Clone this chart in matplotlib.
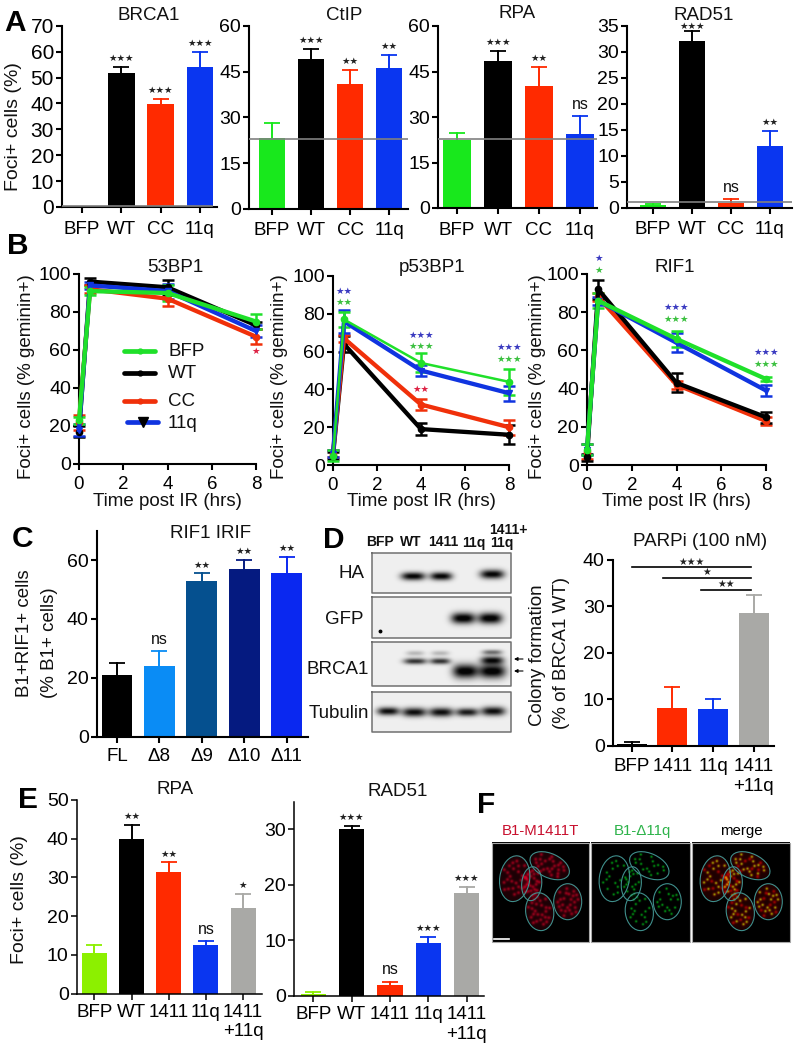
import numpy as np
import matplotlib
matplotlib.use("Agg")
import matplotlib.pyplot as plt
from matplotlib.patches import Ellipse

plt.rcParams['font.family'] = ['Liberation Sans', 'DejaVu Sans']
plt.rcParams['text.color'] = '#111111'
plt.rcParams['axes.labelcolor'] = '#111111'

W, H = 794, 1050
GREEN, LIME, RED, BLUE, GREY = '#18e81c', '#8cf000', '#ff2a00', '#0a36f0', '#a9a9a6'
LINE_BLUE, LINE_GREEN, LINE_RED = '#1034e0', '#1fe02a', '#f0300a'

# Panel A
a_cats = ['BFP', 'WT', 'CC', '11q']
a_cols = [GREEN, 'black', RED, BLUE]
brca1_v = [0, 51.6, 39.9, 54.0]
brca1_e = [0, 2.4, 1.8, 6.0]
brca1_s = ['', '***', '***', '***']
ctip_v = [23.1, 49.0, 40.8, 46.3]
ctip_e = [5.1, 3.6, 4.8, 4.1]
ctip_s = ['', '***', '**', '**']
rpa_v = [22.3, 48.4, 40.2, 24.4]
rpa_e = [2.3, 3.3, 6.3, 5.8]
rpa_s = ['', '***', '**', 'ns']
rad51_v = [0.6, 32.0, 0.9, 11.9]
rad51_e = [0.2, 2.0, 0.7, 2.8]
rad51_s = ['', '***', 'ns', '**']

# Panel B
t_hrs = [0, 0.5, 4, 8]
b_series = ['WT', 'CC', '11q', 'BFP']
b_cols = {'BFP': LINE_GREEN, 'WT': 'black', 'CC': LINE_RED, '11q': LINE_BLUE}
bp53_v = {'BFP': [23, 91, 90, 75], 'WT': [17, 96, 93, 73], 'CC': [22, 92, 87, 67], '11q': [18, 94, 91, 70]}
bp53_e = {'BFP': [2, 2, 4, 4], 'WT': [3, 2, 4, 2], 'CC': [4, 2, 4, 4], '11q': [3, 2, 4, 3]}
p53_v = {'BFP': [5, 77, 54, 44], 'WT': [5, 64, 19, 16], 'CC': [6, 67, 32, 20], '11q': [6, 76, 50, 38]}
p53_e = {'BFP': [3, 4, 5, 7], 'WT': [2, 4, 3, 5], 'CC': [2, 2, 3, 4], '11q': [2, 6, 3, 4]}
rif_v = {'BFP': [8, 86, 66, 45], 'WT': [4, 92, 43, 25], 'CC': [7, 88, 42, 23], '11q': [8, 86, 64, 39]}
rif_e = {'BFP': [3, 4, 4, 1], 'WT': [2, 5, 5, 3], 'CC': [4, 2, 2, 2], '11q': [3, 2, 5, 3]}
bp53_sig = [(8, 59, '*', '#dd2244')]
p53_sig = [(0.5, 92, '**', '#3a3ac0'), (0.5, 86, '**', '#3cc040'), (4, 68.4, '***', '#3a3ac0'),
           (4, 62.6, '***', '#3cc040'), (4, 40, '**', '#dd2244'), (8, 62, '***', '#3a3ac0'), (8, 56, '***', '#3cc040')]
rif_sig = [(0.5, 108.4, '*', '#3a3ac0'), (0.5, 102, '*', '#3cc040'), (4, 82.7, '***', '#3a3ac0'),
           (4, 76.4, '***', '#3cc040'), (8, 58.7, '***', '#3a3ac0'), (8, 52.7, '***', '#3cc040')]

# Panel C
c_cats = ['FL', 'Δ8', 'Δ9', 'Δ10', 'Δ11']
c_cols = ['black', '#0a8cf5', '#05508f', '#051a80', '#0a28f0']
c_v = [21, 24, 53, 57, 55.5]
c_e = [4, 5, 2.5, 3.2, 5.6]
c_s = ['', 'ns', '**', '**', '**']

# Panel D
d_cats = ['BFP', '1411', '11q', '1411\n+11q']
d_cols = ['black', RED, BLUE, GREY]
d_v = [0.3, 8.2, 7.8, 28.5]
d_e = [0.4, 4.5, 2.3, 4.0]
d_brackets = [(0, 3, 38.4, '***'), (0.77, 3, 36.1, '*'), (1.7, 3, 33.5, '**')]
lane_labels = ['BFP', 'WT', '1411', '11q', '11q']
blot_names = ['HA', 'GFP', 'BRCA1', 'Tubulin']

# Panel E
e_cats = ['BFP', 'WT', '1411', '11q', '1411\n+11q']
e_cols = [LIME, 'black', RED, BLUE, GREY]
e_rpa_v = [10.5, 40, 31.5, 12.5, 22]
e_rpa_e = [2, 3.5, 2.4, 1, 3.7]
e_rpa_s = ['', '**', '**', 'ns', '*']
e_rad_v = [0.3, 30, 2, 9.6, 18.6]
e_rad_e = [0.4, 0.7, 0.6, 1, 1]
e_rad_s = ['', '***', 'ns', '***', '***']

fig = plt.figure(figsize=(W / 100, H / 100), dpi=100, facecolor='white')
px = fig.add_axes([0, 0, 1, 1], zorder=0)
px.set_xlim(0, W); px.set_ylim(H, 0); px.axis('off')

FS = 13.5


def make_ax(x0, x1, ytop, ybot, ymax, t0, step, lw=1.5, yticks=None, pad=2.5, ysize=14):
    ax = fig.add_axes([x0 / W, 1 - ybot / H, (x1 - x0) / W, (ybot - ytop) / H], zorder=2)
    ax.patch.set_alpha(0)
    ax.set_xlim((x0 - t0) / step, (x1 - t0) / step)
    ax.set_ylim(0, ymax)
    for s in ('top', 'right'):
        ax.spines[s].set_visible(False)
    for s in ('left', 'bottom'):
        ax.spines[s].set_linewidth(lw)
    ax.tick_params(width=lw, length=4.3)
    ax.tick_params(axis='x', labelsize=FS, pad=pad)
    ax.tick_params(axis='y', labelsize=ysize, pad=1.5)
    if yticks is not None:
        ax.set_yticks(yticks)
    return ax


def bars(ax, vals, errs, cols, cats, sig=None, width=0.68, offsets=None):
    xs = np.arange(len(vals))
    ax.bar(xs, vals, width=width, color=cols, zorder=2)
    for i, (v, e, c) in enumerate(zip(vals, errs, cols)):
        if e <= 0:
            continue
        ax.plot([i, i], [v, v + e], color=c, lw=1.4, zorder=1.8)
        ax.plot([i], [v + e], marker='_', ms=11, mew=1.3, color=c, zorder=1.8)
    ax.set_xticks(xs)
    ax.set_xticklabels(cats)
    if sig:
        for i, s in enumerate(sig):
            if not s:
                continue
            off = (offsets or {}).get(i, 6)
            if s == 'ns':
                ax.annotate(s, (i, vals[i] + errs[i]), xytext=(0, 3), textcoords='offset points',
                            ha='center', va='bottom', fontsize=11.5)
            else:
                ax.annotate('★' * len(s), (i, vals[i] + errs[i]), xytext=(0, off), textcoords='offset points',
                            ha='center', va='center', fontsize=6.8, family='DejaVu Sans', color='#222222')


# ---------- A
ax = make_ax(62, 217, 25.7, 207, 70, 82, 39.3, yticks=range(0, 71, 10), pad=5.5, ysize=15)
bars(ax, brca1_v, brca1_e, a_cols, a_cats, brca1_s)
ax.axhline(0.5, color='#808080', lw=1.2, zorder=3, xmax=0.97)
ax = make_ax(249, 408, 26, 208.7, 60, 272, 39.0, yticks=range(0, 61, 15), pad=5.5)
bars(ax, ctip_v, ctip_e, a_cols, a_cats, ctip_s)
ax.axhline(23, color='#808080', lw=1.2, zorder=3)
ax = make_ax(438, 597, 26, 208, 60, 457, 41.0, yticks=range(0, 61, 15), pad=5.5)
bars(ax, rpa_v, rpa_e, a_cols, a_cats, rpa_s)
ax.axhline(22.7, color='#808080', lw=1.2, zorder=3)
ax = make_ax(627, 792, 25.7, 207.7, 35, 653, 39.0, yticks=range(0, 36, 5), pad=5.5)
bars(ax, rad51_v, rad51_e, a_cols, a_cats, rad51_s, offsets={1: 3.5})
ax.axhline(1, color='#808080', lw=1.2, zorder=3)
for txt, x, y in [('BRCA1', 149, 15), ('CtIP', 344, 15), ('RPA', 517, 14), ('RAD51', 704, 15)]:
    px.text(x, y, txt, ha='center', va='center', fontsize=FS)
px.text(14, 127, 'Foci+ cells (%)', rotation=90, ha='center', va='center', fontsize=14)


# ---------- B
def lines(ax, vd, ed, sig, order=b_series, lws=None):
    for s in order:
        c = b_cols[s]
        lw = (lws or {}).get(s, 3.1)
        ax.errorbar(t_hrs, vd[s], yerr=ed[s], color=c, lw=lw, marker='v' if s == '11q' else 'o', ms=4.5,
                    capsize=4.2, capthick=1.8, elinewidth=1.8, clip_on=False, zorder=3)
    for x, y, t, c in sig:
        ax.text(x, y, '★' * len(t), color=c, fontsize=6.8, family='DejaVu Sans', ha='center', va='center', clip_on=False)


def line_ax(x0, x8, ytop, ybot):
    ax = make_ax(x0, x8, ytop, ybot, 100, x0, (x8 - x0) / 8, yticks=range(0, 101, 20), pad=4)
    ax.set_xticks([0, 2, 4, 6, 8])
    return ax


ax = line_ax(79, 256, 274, 464)
lines(ax, bp53_v, bp53_e, bp53_sig)
ax = line_ax(333, 509, 276, 465)
lines(ax, p53_v, p53_e, p53_sig, lws={'BFP': 1.8})
ax = line_ax(587, 766, 274, 465)
lines(ax, rif_v, rif_e, rif_sig, order=['CC', 'WT', '11q', 'BFP'])
for txt, x in [('53BP1', 175), ('p53BP1', 432), ('RIF1', 675)]:
    px.text(x, 268, txt, ha='center', va='center', fontsize=FS)
for x in (27, 280, 537):
    px.text(x, 377, 'Foci+ cells (% geminin+)', rotation=90, ha='center', va='center', fontsize=FS)
for x in (167, 421, 676):
    px.text(x, 502, 'Time post IR (hrs)', ha='center', va='center', fontsize=FS)
for name, y, xa, xb in [('BFP', 351, 124, 155), ('WT', 373, 124, 155), ('CC', 401, 124, 155), ('11q', 422, 127, 158)]:
    px.plot([xa, xb], [y, y], color=b_cols[name], lw=3.4, solid_capstyle='round')
    if name == '11q':
        px.plot([(xa + xb) / 2], [y], marker='v', ms=7, color='black')
    else:
        px.plot([(xa + xb) / 2], [y], marker='o', ms=3.5, color=b_cols[name])
    px.text(168, y + 1, name, ha='left', va='center', fontsize=FS)

# ---------- C
ax = make_ax(96.7, 308, 530.7, 736.7, 70, 117, 42.4, yticks=[0, 20, 40, 60], pad=3.5)
bars(ax, c_v, c_e, c_cols, c_cats, c_s, width=0.73)
px.text(211, 533, 'RIF1 IRIF', ha='center', va='center', fontsize=FS)
px.text(25, 633, 'B1+RIF1+ cells', rotation=90, ha='center', va='center', fontsize=FS)
px.text(49, 643, '(% B1+ cells)', rotation=90, ha='center', va='center', fontsize=FS)

# ---------- D blots
blot_boxes = [(553, 593), (597, 638), (642, 686), (692, 732)]
blot_bands = [
    [(413, 576, 24, 8, .95), (441, 576, 22, 8, .95), (492, 574, 24, 9, .95)],
    [(463, 618, 24, 11, 1.0), (490, 618, 24, 11, 1.0)],
    [(415, 661, 23, 6, .75), (415, 653, 18, 5, .22), (440, 661, 20, 6, .75), (440, 653, 18, 5, .22),
     (465, 671, 25, 14, 1.0), (492, 671, 27, 14, 1.0), (492, 660, 23, 8, .85), (492, 652, 20, 5, .5)],
    [(388, 711, 22, 8, .9), (414, 712, 24, 9, .9), (441, 712, 24, 9, .9), (467, 712, 22, 8, .85), (493, 711, 24, 9, .9)],
]
blot_x0, blot_x1 = 372, 511
for (yt, yb), bands in zip(blot_boxes, blot_bands):
    X, Y = np.meshgrid(np.arange(blot_x0, blot_x1, 0.5), np.arange(yt, yb, 0.5))
    img = np.full(X.shape, 0.94)
    for cx, cy, w, h, d in bands:
        img -= d * np.exp(-(np.abs(X - cx) / (w / 2)) ** 3 - (np.abs(Y - cy) / (h / 2)) ** 2)
    px.imshow(np.clip(img, 0.02, 1), cmap='gray', vmin=0, vmax=1, extent=(blot_x0, blot_x1, yb, yt),
              aspect='auto', interpolation='bilinear', zorder=1)
    px.plot([blot_x0, blot_x1, blot_x1, blot_x0, blot_x0], [yt, yt, yb, yb, yt], color='#707070', lw=1.1, zorder=2)
px.plot([380], [631], marker='o', ms=1.8, color='black', zorder=3)
for name, y, xr in zip(blot_names, [573, 620, 669, 714], [364, 364, 369, 369]):
    px.text(xr, y, name, ha='right', va='center', fontsize=FS)
for lab, x in zip(lane_labels, [380, 411, 443, 474, 501.7]):
    px.text(x, 542.5, lab, ha='center', va='center', fontsize=10, fontweight='bold')
px.text(508, 530, '1411+', ha='center', va='center', fontsize=10, fontweight='bold')
for y in (659, 671):
    px.annotate('', xy=(514, y), xytext=(523, y),
                arrowprops=dict(arrowstyle='-|>', color='black', lw=0.8, mutation_scale=5, shrinkA=0, shrinkB=0))

# ---------- D bars
ax = make_ax(612.7, 774, 560, 745.7, 40, 631.7, 40.7, yticks=[0, 10, 20, 30, 40], pad=4.5)
bars(ax, d_v, d_e, d_cols, d_cats, width=0.74)
for xa, xb, y, s in d_brackets:
    ax.plot([xa, xb - 0.08], [y, y], color='black', lw=1.2, clip_on=False)
    ax.text((xa + xb - 0.08) / 2, y + 0.2, '★' * len(s), ha='center', va='bottom', fontsize=7,
            family='DejaVu Sans', color='#222222')
px.text(700, 541.5, 'PARPi (100 nM)', ha='center', va='center', fontsize=FS)
px.text(537, 655, 'Colony formation', rotation=90, ha='center', va='center', fontsize=FS)
px.text(562, 653, '(% of BRCA1 WT)', rotation=90, ha='center', va='center', fontsize=FS)

# ---------- E
ax = make_ax(76.7, 261.7, 800, 993.7, 50, 94.3, 37.2, lw=1.1, yticks=range(0, 51, 10), pad=3)
bars(ax, e_rpa_v, e_rpa_e, e_cols, e_cats, e_rpa_s, width=0.67)
ax = make_ax(294, 484, 801.7, 996, 35, 313.3, 38.3, lw=1.1, yticks=[0, 10, 20, 30], pad=3)
bars(ax, e_rad_v, e_rad_e, e_cols, e_cats, e_rad_s, width=0.66)
px.text(175, 790, 'RPA', ha='center', va='center', fontsize=FS)
px.text(398, 792, 'RAD51', ha='center', va='center', fontsize=FS)
px.text(20, 900, 'Foci+ cells (%)', rotation=90, ha='center', va='center', fontsize=14)

# ---------- F micrographs
panels = [(491.7, 589.3), (591.3, 690), (692.3, 790)]
py0, py1 = 842.7, 942.3
nuclei = [(23, 36, 15, 23, 8), (58, 23, 21, 12, 25), (40, 41, 10, 17, 5), (76, 59, 14, 18, 0), (48, 69, 14, 19, -8)]
spots = [(-.6, -.5), (-.1, -.7), (.4, -.55), (.7, -.1), (-.75, .05), (-.3, -.15), (.2, -.1), (.5, .35), (-.5, .5),
         (-.05, .35), (.25, .7), (-.3, .8), (.05, -.4), (-.55, -.1), (.45, .05), (-.2, .55), (.6, -.35), (.15, .2),
         (-.4, .2), (.35, -.3), (-.15, -.45), (.1, .5), (-.65, .3), (.55, .6)]
X, Y = np.meshgrid(np.arange(0, 98, 0.5), np.arange(0, 100, 0.5))
red = np.zeros(X.shape)
grn = np.zeros(X.shape)
for n, (cx, cy, a, b, ang) in enumerate(nuclei):
    th = np.deg2rad(ang)
    dx, dy = X - cx, Y - cy
    u = (dx * np.cos(th) + dy * np.sin(th)) / a
    v = (-dx * np.sin(th) + dy * np.cos(th)) / b
    red += 0.14 * ((u ** 2 + v ** 2) < 1)
    for k, (su, sv) in enumerate(spots):
        su, sv = (su, sv) if n % 2 else (-sv, su)
        sx = cx + su * a * np.cos(th) - sv * b * np.sin(th)
        sy = cy + su * a * np.sin(th) + sv * b * np.cos(th)
        red += 0.6 * np.exp(-((X - sx) ** 2 + (Y - sy) ** 2) / 2.6)
        if k % 3 != 2:
            grn += 0.85 * np.exp(-((X - sx) ** 2 + (Y - sy) ** 2) / 1.2)
red, grn = np.clip(red, 0, 1), np.clip(grn, 0, 1)
zero = np.zeros(X.shape)
imgs = [np.dstack([red * 0.8, zero, red * 0.14]), np.dstack([zero, grn * 0.8, grn * 0.1]),
        np.dstack([red * 0.85, grn * 0.85, zero])]
for (xa, xb), img in zip(panels, imgs):
    px.imshow(img, extent=(xa, xb, py1, py0), aspect='auto', interpolation='bilinear', zorder=1)
    px.plot([xa, xb, xb, xa, xa], [py0, py0, py1, py1, py0], color='#a8a8a8', lw=0.8, zorder=2)
    for cx, cy, a, b, ang in nuclei:
        px.add_patch(Ellipse((xa + cx, py0 + cy), 2 * a, 2 * b, angle=ang, fill=False, ec='#3f8f8c', lw=0.8, zorder=3))
px.plot([494, 509], [938.5, 938.5], color='white', lw=1.2, zorder=4)
px.text(540.5, 831, 'B1-M1411T', color='#c8102e', ha='center', va='center', fontsize=10.8)
px.text(642, 831, 'B1-Δ11q', color='#2db34a', ha='center', va='center', fontsize=10.8)
px.text(741, 831, 'merge', color='black', ha='center', va='center', fontsize=10.8)

# ---------- panel letters
for t, x, y in [('A', 4, 31), ('B', 7, 254), ('C', 12, 547), ('D', 323, 548), ('E', 18, 808), ('F', 477, 813)]:
    px.text(x, y, t, fontsize=21.5, fontweight='bold', color='black', ha='left', va='baseline')

px.set_xlim(0, W); px.set_ylim(H, 0)
fig.savefig('out.png', dpi=100)
